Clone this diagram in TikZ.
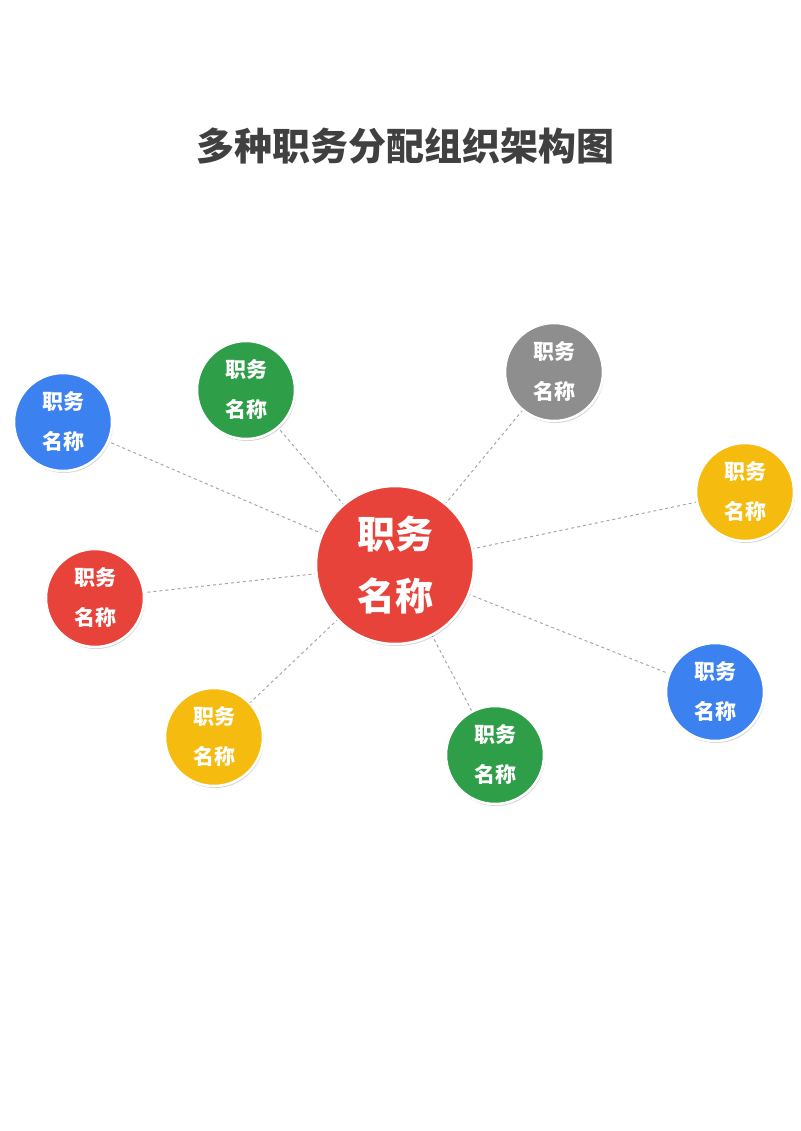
\documentclass[tikz,border=0pt]{standalone}
\usepackage{fontspec}
\newfontfamily\cjk{Noto Sans CJK SC}
\usetikzlibrary{positioning,shadows}
\definecolor{jred}{HTML}{E8433A}
\definecolor{jblue}{HTML}{3B82F0}
\definecolor{jgreen}{HTML}{2E9E48}
\definecolor{jgray}{HTML}{8E8E8E}
\definecolor{jyellow}{HTML}{F5BC0F}
\definecolor{jtitle}{HTML}{404040}
\begin{document}
\begin{tikzpicture}[x=1pt,y=-1pt,
    post/.style={circle,draw=white,line width=2.5pt,minimum size=98pt,inner sep=0pt,
      align=center,text=white,font=\cjk\fontsize{21}{40}\selectfont\bfseries,
      drop shadow={shadow xshift=1pt,shadow yshift=-2pt,opacity=.35}},
    head/.style={post,minimum size=158pt,font=\cjk\fontsize{38}{62}\selectfont\bfseries},
    link/.style={dashed,draw=gray!70,line width=1pt}]
  \useasboundingbox (0,0) rectangle (800,1131);
  \node[font=\cjk\fontsize{38}{44}\selectfont\bfseries,text=jtitle] (title) at (405,146) {多种职务分配组织架构图};

  \coordinate (hc) at (395,565);
  \coordinate (p1) at (63,422);
  \coordinate (p2) at (246,390);
  \coordinate (p3) at (554,372);
  \coordinate (p4) at (745,492);
  \coordinate (p5) at (95,598);
  \coordinate (p6) at (214,737);
  \coordinate (p7) at (495,755);
  \coordinate (p8) at (715,692);

  % dashed links behind the circles
  \foreach \p in {p1,p2,p3,p4,p5,p6,p7,p8}
    \draw[link] (hc) -- (\p);

  \node[head,fill=jred] (head) at (hc) {职务\\名称};
  \node[post,fill=jblue] (n1) at (p1) {职务\\名称};
  \node[post,fill=jgreen] (n2) at (p2) {职务\\名称};
  \node[post,fill=jgray] (n3) at (p3) {职务\\名称};
  \node[post,fill=jyellow] (n4) at (p4) {职务\\名称};
  \node[post,fill=jred] (n5) at (p5) {职务\\名称};
  \node[post,fill=jyellow] (n6) at (p6) {职务\\名称};
  \node[post,fill=jgreen] (n7) at (p7) {职务\\名称};
  \node[post,fill=jblue] (n8) at (p8) {职务\\名称};
\end{tikzpicture}
\end{document}
